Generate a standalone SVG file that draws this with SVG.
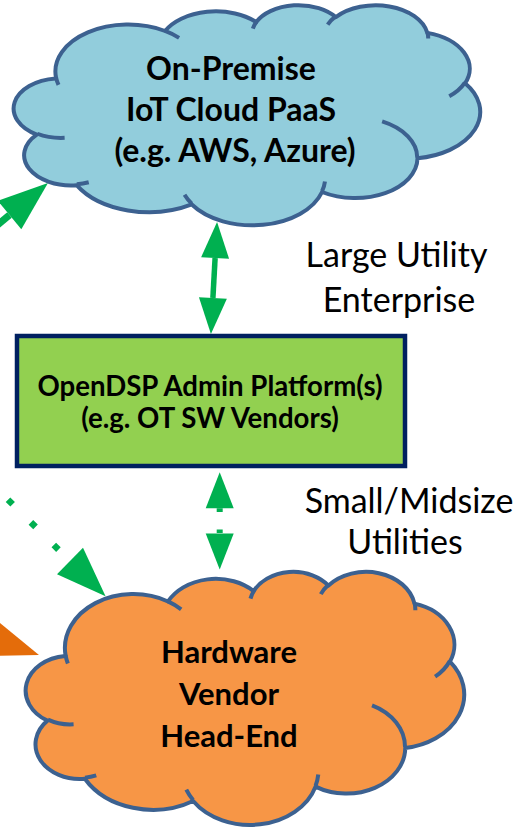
<svg xmlns="http://www.w3.org/2000/svg" xmlns:xlink="http://www.w3.org/1999/xlink" width="519" height="829" viewBox="0 0 519 829">
<style>
.cloud-body{vector-effect:non-scaling-stroke;stroke-width:4;stroke:#3C6190;stroke-linejoin:round}
.cloud-tail{vector-effect:non-scaling-stroke;stroke-width:4;stroke:#3C6190;fill:none}
.blue{fill:#92CDDC}
.orange{fill:#F79646}
.bold{font-family:Lato,"Liberation Sans",sans-serif;font-weight:bold;fill:#000;text-anchor:middle}
.reg{font-family:Lato,"Liberation Sans",sans-serif;font-weight:normal;fill:#000;text-anchor:middle;font-size:34px}
.g{stroke:#00B050;fill:none}
</style>
<defs>
<path id="cloudOutline" class="cloud-body" d="M3900,14370 A6753,9190 0 0 1 14006,5203 A5333,7267 0 0 1 22457,3433 A4365,5945 0 0 1 29834,2482 A4857,6595 0 0 1 38319,5577 A5333,7273 0 0 1 41819,15461 A6775,9220 0 0 1 37406,30205 A5785,7867 0 0 1 28558,36815 A6752,9215 0 0 1 16483,39269 A7720,10543 0 0 1 5805,35475 A4360,5918 0 0 1 2114,25554 A4345,5945 0 0 1 3864,14510 Z"/>
<path id="cloudTails" class="cloud-tail" d="M4693,26177 A4345,5945 0 0 1 2159,25380 M6928,34899 A4360,5918 0 0 1 5819,35281 M16478,39090 A6752,9215 0 0 1 15809,37348 M28827,34751 A6752,9215 0 0 1 28561,36659 M34129,22954 A5785,7867 0 0 1 37381,30090 M41798,15354 A5333,7273 0 0 1 40350,18030 M38324,5426 A4857,6595 0 0 1 38400,6689 M29078,3952 A4857,6595 0 0 1 29820,2339 M22141,4720 A4365,5945 0 0 1 22500,3330 M14000,5192 A6753,9190 0 0 1 15305,6551 M4127,15789 A6753,9190 0 0 1 3900,14370"/>
<marker id="headS" markerUnits="userSpaceOnUse" markerWidth="36" markerHeight="28" refX="0" refY="14" orient="auto-start-reverse" viewBox="0 0 36 28" overflow="visible">
<path d="M0,0 L36,14 L0,28 Z" fill="#00B050"/>
</marker>
<marker id="headL" markerUnits="userSpaceOnUse" markerWidth="50" markerHeight="37" refX="0" refY="18.5" orient="auto" viewBox="0 0 50 37" overflow="visible">
<path d="M0,0 L50,18.5 L0,37 Z" fill="#00B050"/>
</marker>
<marker id="headO" markerUnits="userSpaceOnUse" markerWidth="50" markerHeight="37" refX="0" refY="18.5" orient="auto" viewBox="0 0 50 37" overflow="visible">
<path d="M0,0 L50,18.5 L0,37 Z" fill="#E46C0A"/>
</marker>
</defs>

<g id="connectors">
<line x1="-13.6" y1="234.2" x2="9.5" y2="215" class="g" stroke-width="7" marker-end="url(#headL)"/>
<line x1="215.1" y1="258" x2="212.9" y2="298" class="g" stroke-width="5.5" marker-start="url(#headS)" marker-end="url(#headS)"/>
<line x1="219.7" y1="508.3" x2="219.7" y2="533.5" class="g" stroke-width="6" stroke-dasharray="3.6 17.6" marker-start="url(#headS)" marker-end="url(#headS)"/>
<line x1="-14.9" y1="477.1" x2="70" y2="561" class="g" stroke-width="6.5" stroke-dasharray="6.5 25.7" marker-end="url(#headL)"/>
<line x1="-36.7" y1="628.9" x2="-8.3" y2="638.7" stroke="#E46C0A" stroke-width="7" marker-end="url(#headO)"/>
</g>

<g id="iot-cloud">
<use xlink:href="#cloudOutline" href="#cloudOutline" class="blue" transform="translate(14,4.5) scale(0.010787,0.0050926)"/>
<use xlink:href="#cloudTails" href="#cloudTails" transform="translate(14,4.5) scale(0.010787,0.0050926)"/>
<text class="bold" font-size="32" x="231" y="80">On-Premise</text>
<text class="bold" font-size="32" x="231" y="121">IoT Cloud PaaS</text>
<text class="bold" font-size="32" x="235" y="162">(e.g. AWS, Azure)</text>
</g>

<g id="admin-platform">
<rect x="17" y="336" width="388" height="130" fill="#92D050" stroke="#002060" stroke-width="4.5"/>
<text class="bold" font-size="27.6" x="210" y="396">OpenDSP Admin Platform(s)</text>
<text class="bold" font-size="27.6" x="210" y="427.5">(e.g. OT SW Vendors)</text>
</g>

<g id="hw-cloud">
<use xlink:href="#cloudOutline" href="#cloudOutline" class="orange" transform="translate(26,571) scale(0.010139,0.0058565)"/>
<use xlink:href="#cloudTails" href="#cloudTails" transform="translate(26,571) scale(0.010139,0.0058565)"/>
<text class="bold" font-size="31" x="229" y="663">Hardware</text>
<text class="bold" font-size="31" x="229" y="705">Vendor</text>
<text class="bold" font-size="31" x="229" y="747">Head-End</text>
</g>

<g id="label-large">
<text class="reg" x="396.5" y="267">Large Utility</text>
<text class="reg" x="399" y="312">Enterprise</text>
</g>

<g id="label-small">
<text class="reg" x="409" y="513" font-size="35">Small/Midsize</text>
<text class="reg" x="405" y="554">Utilities</text>
</g>
</svg>
